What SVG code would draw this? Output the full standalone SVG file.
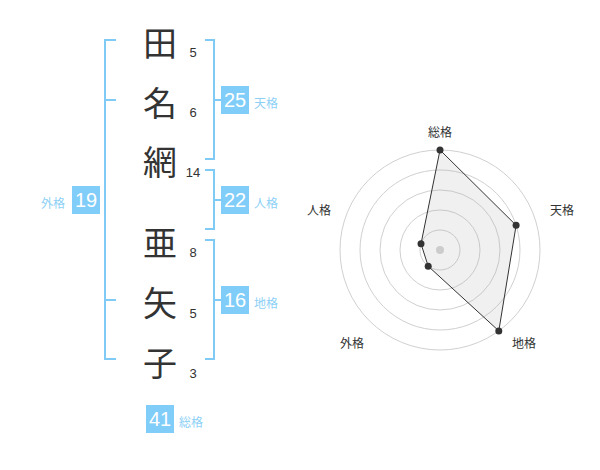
<svg xmlns="http://www.w3.org/2000/svg" width="600" height="470" viewBox="0 0 600 470">
<style>
.k{font-family:"Noto Sans CJK JP","Noto Sans CJK SC",sans-serif;font-size:34px;fill:#333;text-anchor:middle;dominant-baseline:central}
.n{font-family:"Liberation Sans",Arial,sans-serif;font-size:13px;fill:#333;text-anchor:middle}
.br{fill:none;stroke:#80CBF6;stroke-width:2}
.bx{fill:#80CDF9}
.bn{font-family:"Liberation Sans",Arial,sans-serif;font-size:20px;fill:#fff;text-anchor:middle}
.bl{font-family:"Noto Sans CJK JP","Noto Sans CJK SC",sans-serif;font-size:12px;fill:#8DD0F6;dominant-baseline:central}
.ring{fill:none;stroke:#d0d0d0;stroke-width:1}
.rl{font-family:"Noto Sans CJK JP","Noto Sans CJK SC",sans-serif;font-size:12px;fill:#333;text-anchor:middle;dominant-baseline:central}
</style>
<g id="connectors">
<path class="br" d="M116,40 H105 V359 H116 M105,100 H116 M105,300 H116"/>
<path class="br" d="M205,40 H214 V159 H205 M214,100 H221"/>
<path class="br" d="M205,170 H214 V229 H205 M214,200 H221"/>
<path class="br" d="M205,240 H214 V359 H205 M214,300 H221"/>
</g>
<g id="chars">
<text class="k" x="160" y="41">田</text>
<text class="k" x="160" y="101">名</text>
<text class="k" x="160" y="160">網</text>
<text class="k" x="160" y="241">亜</text>
<text class="k" x="160" y="301">矢</text>
<text class="k" x="160" y="361">子</text>
<text class="n" x="193" y="57">5</text>
<text class="n" x="193" y="117">6</text>
<text class="n" x="193" y="177">14</text>
<text class="n" x="193" y="257">8</text>
<text class="n" x="193" y="318">5</text>
<text class="n" x="193" y="378">3</text>
</g>
<g id="tenkaku">
<rect class="bx" x="221" y="86" width="28" height="28"/>
<text class="bn" x="235" y="107">25</text>
<text class="bl" x="254" y="102">天格</text>
</g>
<g id="jinkaku">
<rect class="bx" x="221" y="186" width="28" height="28"/>
<text class="bn" x="235" y="207">22</text>
<text class="bl" x="254" y="202">人格</text>
</g>
<g id="chikaku">
<rect class="bx" x="221" y="286" width="28" height="28"/>
<text class="bn" x="235" y="307">16</text>
<text class="bl" x="254" y="302">地格</text>
</g>
<g id="gaikaku">
<rect class="bx" x="72" y="186" width="28" height="28"/>
<text class="bn" x="86" y="207">19</text>
<text class="bl" x="41" y="202">外格</text>
</g>
<g id="soukaku">
<rect class="bx" x="146" y="405" width="28" height="28"/>
<text class="bn" x="160" y="426">41</text>
<text class="bl" x="179" y="421">総格</text>
</g>
<g id="radar">
<circle class="ring" cx="440" cy="250" r="20"/>
<circle class="ring" cx="440" cy="250" r="40"/>
<circle class="ring" cx="440" cy="250" r="60"/>
<circle class="ring" cx="440" cy="250" r="80"/>
<circle class="ring" cx="440" cy="250" r="100"/>
<polygon points="440,150 516.1,225.3 498.8,330.9 428.2,266.2 421,243.8" fill="#aaaaaa" fill-opacity="0.18" stroke="#333" stroke-width="1"/>
<circle cx="440" cy="250" r="4" fill="#cccccc"/>
<g fill="#333">
<circle cx="440" cy="150" r="3.5"/>
<circle cx="516.1" cy="225.3" r="3.5"/>
<circle cx="498.8" cy="330.9" r="3.5"/>
<circle cx="428.2" cy="266.2" r="3.5"/>
<circle cx="421" cy="243.8" r="3.5"/>
</g>
<text class="rl" x="440" y="131">総格</text>
<text class="rl" x="562" y="209">天格</text>
<text class="rl" x="524" y="342">地格</text>
<text class="rl" x="352" y="342">外格</text>
<text class="rl" x="319" y="209">人格</text>
</g>
</svg>
